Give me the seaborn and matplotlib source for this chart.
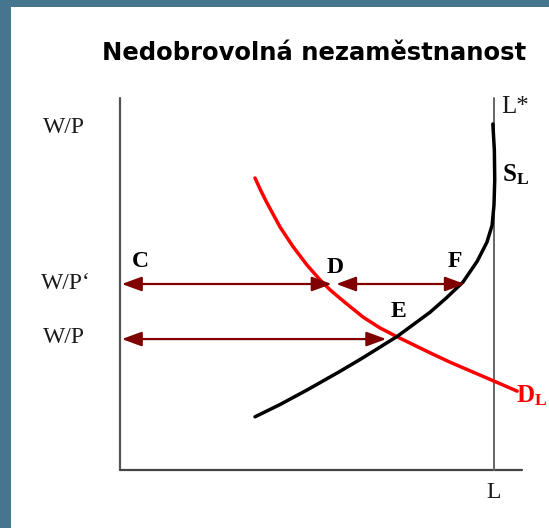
import matplotlib

matplotlib.use("Agg")
import matplotlib.pyplot as plt
import pandas as pd
import seaborn as sns

# L on x (L* = 10), W/P on y (W/P' = 5)
demand_L = [3.61, 3.77, 3.93, 4.28, 4.63, 5.00, 5.35, 5.62, 6.02, 6.50, 6.95, 7.41,
            8.29, 8.82, 10.0, 10.62]
demand_W = [7.85, 7.50, 7.18, 6.53, 6.00, 5.51, 5.11, 4.84, 4.50, 4.11, 3.82, 3.58,
            3.15, 2.90, 2.39, 2.12]

supply_L = [3.61, 4.28, 5.00, 5.88, 6.50, 7.41, 8.29, 8.72, 9.17, 9.55, 9.81, 9.95,
            10.0, 10.02, 10.01, 9.97]
supply_W = [1.43, 1.76, 2.15, 2.65, 3.02, 3.59, 4.24, 4.62, 5.05, 5.61, 6.12, 6.58,
            7.12, 7.80, 8.60, 9.30]

L_full = 10.0
wage_high = 5.0   # W/P'
wage_eq = 3.52    # W/P
L_D = 5.66        # demand at W/P'
L_D2 = 5.78
L_F = 9.22        # supply at W/P'
L_E = 7.12        # equilibrium

ARROW = "#800000"
SERIF = "Liberation Serif"


def main() -> None:
    sns.set_theme(style="white")
    plt.rcParams["mathtext.fontset"] = "custom"
    plt.rcParams["mathtext.rm"] = SERIF
    plt.rcParams["mathtext.bf"] = SERIF + ":bold"

    fig = plt.figure(figsize=(5.49, 5.28), dpi=100, facecolor="#46768f")
    ax = fig.add_axes([11 / 549, 0, 538 / 549, 521 / 528])
    ax.set_facecolor("white")
    for s in ax.spines.values():
        s.set_visible(False)
    ax.set_xticks([])
    ax.set_yticks([])

    # axes and the L* line
    ax.plot([0, 0], [0, 10.0], color="#555555", lw=1.6)
    ax.plot([0, 10.75], [0, 0], color="#444444", lw=1.6)
    ax.plot([L_full, L_full], [0, 10.0], color="#666666", lw=1.4)

    dem = pd.DataFrame({"L": demand_L, "W": demand_W})
    sup = pd.DataFrame({"L": supply_L, "W": supply_W})
    sns.lineplot(data=dem, x="L", y="W", sort=False, estimator=None,
                 color="#ff0000", lw=2.5, ax=ax)
    sns.lineplot(data=sup, x="L", y="W", sort=False, estimator=None,
                 color="black", lw=2.5, ax=ax)

    arrows = [(0.05, L_D, wage_high), (L_D2, L_F, wage_high), (0.05, L_E, wage_eq)]
    for x0, x1, y in arrows:
        ax.annotate("", xy=(x1, y), xytext=(x0, y),
                    arrowprops=dict(arrowstyle="<|-|>,head_length=0.6,head_width=0.22",
                                    color=ARROW, lw=1.6, mutation_scale=20,
                                    shrinkA=0, shrinkB=0))

    ax.set_xlim(-2.914, 11.471)
    ax.set_ylim(-1.559, 12.446)
    ax.set_xlabel("")
    ax.set_ylabel("")

    tick_kw = dict(fontsize=17, family=SERIF, ha="center", va="center", color="#1a1a1a")
    ax.text(-1.5, 9.2, "W/P", **tick_kw)
    ax.text(-1.45, 5.0, "W/P\u2018", **tick_kw)
    ax.text(-1.5, 3.55, "W/P", **tick_kw)
    ax.text(L_full, -0.6, "L", **tick_kw)
    ax.text(L_full + 0.2, 9.75, "L*", fontsize=18, family=SERIF, ha="left", va="center",
            color="#1a1a1a")

    pt_kw = dict(fontsize=17, family=SERIF, fontweight="bold", ha="center", va="center",
                 color="black")
    ax.text(0.55, 5.6, "C", **pt_kw)
    ax.text(5.75, 5.45, "D", **pt_kw)
    ax.text(8.95, 5.6, "F", **pt_kw)
    ax.text(7.45, 4.26, "E", **pt_kw)
    ax.text(L_full + 0.22, 7.95, r"$\mathbf{S_L}$", fontsize=18, ha="left", va="center",
            color="black")
    ax.text(L_full + 0.6, 2.0, r"$\mathbf{D_L}$", fontsize=18, ha="left", va="center",
            color="#ff0000")

    ax.text(5.2, 11.2, "Nedobrovolná nezaměstnanost", fontsize=17.5, fontweight="bold",
            family="DejaVu Sans", ha="center", va="center", color="black")

    fig.savefig("out.png", dpi=100, facecolor=fig.get_facecolor())
    plt.close(fig)


if __name__ == "__main__":
    main()
